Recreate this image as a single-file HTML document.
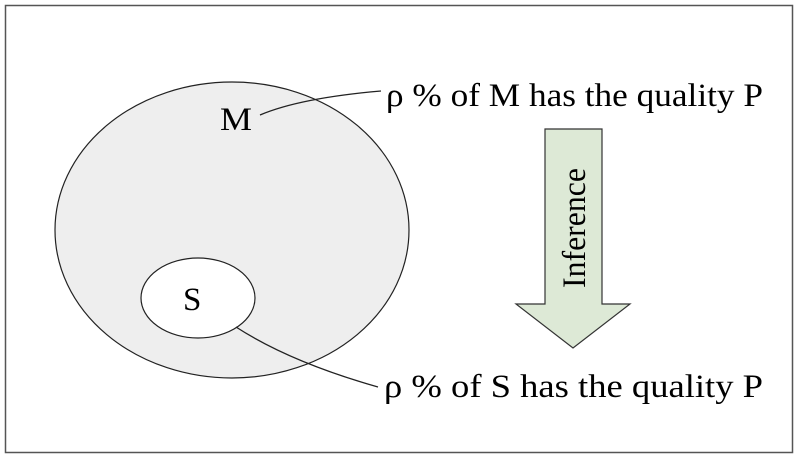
<!DOCTYPE html>
<html><head><style>body{margin:0;background:#fff}</style></head><body>
<svg width="800" height="459" xmlns="http://www.w3.org/2000/svg" style="display:block">
<rect x="5.5" y="5.5" width="787" height="447" fill="#fff" stroke="#555" stroke-width="1.5"/>
<ellipse cx="232" cy="230" rx="177" ry="148" fill="#eeeeee" stroke="#222" stroke-width="1.2"/>
<ellipse cx="198" cy="298" rx="57" ry="40" fill="#fff" stroke="#222" stroke-width="1.2"/>
<path d="M260 115 Q300 98 381 91" fill="none" stroke="#222" stroke-width="1.3"/>
<path d="M236 327 Q290 362 378 387" fill="none" stroke="#222" stroke-width="1.3"/>
<polygon points="545,129 602,129 602,304 630,304 573,348 516,304 545,304" fill="#dde9d6" stroke="#333" stroke-width="1.2"/>
<text transform="translate(585,228) rotate(-90)" text-anchor="middle" font-family="Liberation Serif, serif" font-size="33" textLength="120" lengthAdjust="spacingAndGlyphs">Inference</text>
<g font-family="Liberation Serif, serif" font-size="33" fill="#000">
<text x="220" y="130" textLength="32" lengthAdjust="spacingAndGlyphs">M</text>
<text x="183" y="310">S</text>
<text x="386" y="106" textLength="377" lengthAdjust="spacingAndGlyphs">ρ % of M has the quality P</text>
<text x="384" y="397" textLength="379" lengthAdjust="spacingAndGlyphs">ρ % of S has the quality P</text>
</g>
</svg>
</body></html>
